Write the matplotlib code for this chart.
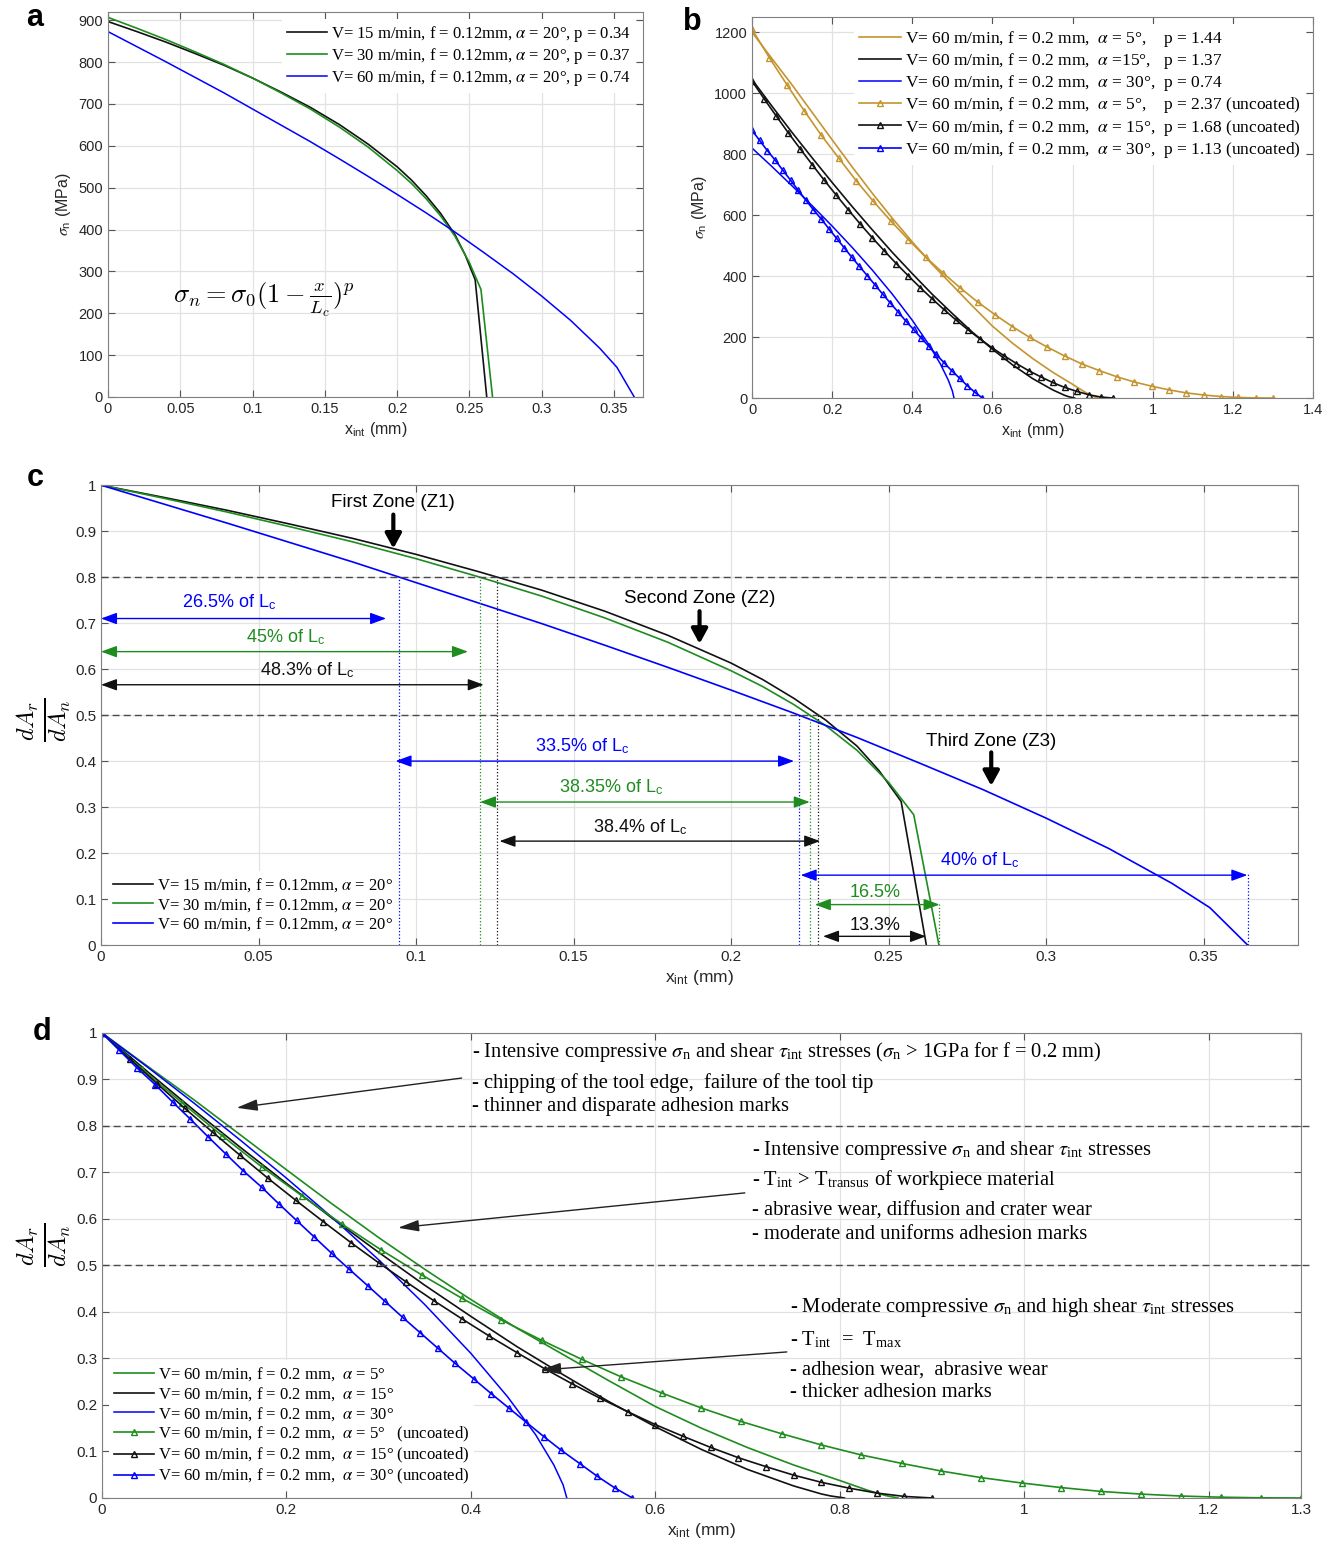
import matplotlib
matplotlib.use('Agg')
import matplotlib.pyplot as plt
import numpy as np
from matplotlib.ticker import FuncFormatter

plt.rcParams['font.family'] = ['Liberation Sans', 'DejaVu Sans']
plt.rcParams['mathtext.fontset'] = 'stix'

SERIF = ['Liberation Serif', 'DejaVu Serif']
GOLD = '#C4952F'
GREEN = '#1E8C1E'
BLUE = '#0000FF'
BLACK = '#111111'

# ---- panel a: sigma_n along the contact, f = 0.12 mm
xa_v15 = [0, 0.02, 0.04, 0.06, 0.08, 0.10, 0.12, 0.14, 0.16, 0.18, 0.20, 0.21, 0.22, 0.23, 0.24, 0.247, 0.254, 0.262]
sa_v15 = [897, 873, 848, 821, 793, 762, 728, 692, 651, 604, 550, 518, 481, 439, 388, 340, 280, 0]
xa_v30 = [0, 0.02, 0.04, 0.06, 0.08, 0.10, 0.12, 0.14, 0.16, 0.18, 0.20, 0.21, 0.22, 0.23, 0.24, 0.25, 0.258, 0.266]
sa_v30 = [907, 881, 854, 825, 795, 762, 726, 688, 645, 597, 541, 510, 474, 433, 384, 321, 257, 0]
xa_v60 = [0, 0.02, 0.04, 0.06, 0.08, 0.10, 0.12, 0.14, 0.16, 0.18, 0.20, 0.22, 0.24, 0.26, 0.28, 0.30, 0.32, 0.34, 0.352, 0.364]
sa_v60 = [873, 837, 801, 764, 727, 688, 649, 610, 569, 527, 484, 440, 394, 345, 295, 241, 183, 117, 71, 0]
labels_a = ['V= 15 m/min, f = 0.12mm, $\\alpha$ = 20°, p = 0.34',
            'V= 30 m/min, f = 0.12mm, $\\alpha$ = 20°, p = 0.37',
            'V= 60 m/min, f = 0.12mm, $\\alpha$ = 20°, p = 0.74']

# ---- panel b: f = 0.2 mm, coated (lines) and uncoated (markers)
xb_c5 = [0, 0.05, 0.1, 0.15, 0.2, 0.25, 0.3, 0.35, 0.4, 0.45, 0.5, 0.55, 0.6, 0.65, 0.7, 0.75, 0.8, 0.83, 0.85, 0.863]
sb_c5 = [1200, 1113, 1027, 937, 847, 758, 672, 590, 512, 438, 370, 302, 236, 180, 130, 85, 45, 20, 6, 0]
xb_c15 = [0, 0.05, 0.1, 0.15, 0.2, 0.25, 0.3, 0.35, 0.4, 0.45, 0.5, 0.55, 0.6, 0.65, 0.7, 0.75, 0.78, 0.79, 0.805]
sb_c15 = [1045, 957, 871, 788, 707, 628, 552, 478, 408, 340, 277, 216, 160, 109, 64, 27, 9, 4.5, 0]
xb_c30 = [0, 0.05, 0.1, 0.15, 0.2, 0.25, 0.3, 0.35, 0.4, 0.44, 0.47, 0.49, 0.5, 0.504]
sb_c30 = [820, 759, 696, 631, 564, 494, 420, 341, 255, 178, 112, 58, 23, 0]
xb_u5 = [0, 0.043, 0.087, 0.13, 0.173, 0.217, 0.26, 0.303, 0.347, 0.39, 0.433, 0.477, 0.52, 0.563,
         0.607, 0.65, 0.693, 0.737, 0.78, 0.823, 0.867, 0.91, 0.953, 0.997, 1.04, 1.083, 1.127,
         1.17, 1.213, 1.257, 1.3]
sb_u5 = [1210, 1117, 1028, 943, 862, 786, 713, 645, 580, 520, 463, 410, 361, 315, 273, 234, 199,
         167, 138, 112, 90, 70, 53, 39, 27, 17, 10, 5, 2, 0.4, 0]
xb_u15 = [0, 0.03, 0.06, 0.09, 0.12, 0.15, 0.18, 0.21, 0.24, 0.27, 0.3, 0.33, 0.36, 0.39, 0.42,
          0.45, 0.48, 0.51, 0.54, 0.57, 0.6, 0.63, 0.66, 0.69, 0.72, 0.75, 0.78, 0.81, 0.84, 0.87, 0.9]
sb_u15 = [1040, 982, 926, 871, 818, 766, 715, 666, 618, 571, 526, 483, 441, 401, 362, 325, 289,
          255, 223, 193, 164, 138, 113, 90, 70, 51, 35, 22, 11, 3.4, 0]
xb_u30 = [0, 0.019, 0.038, 0.058, 0.077, 0.096, 0.115, 0.134, 0.153, 0.173, 0.192, 0.211, 0.23,
          0.249, 0.268, 0.288, 0.307, 0.326, 0.345, 0.364, 0.383, 0.403, 0.422, 0.441, 0.46,
          0.479, 0.498, 0.518, 0.537, 0.556, 0.575]
sb_u30 = [878, 845, 812, 780, 747, 715, 682, 650, 618, 587, 555, 524, 493, 462, 432, 401, 371,
          341, 312, 283, 254, 225, 197, 170, 143, 116, 90, 65, 41, 19, 0]
labels_b = ['V= 60 m/min, f = 0.2 mm,  $\\alpha$ = 5°,    p = 1.44',
            'V= 60 m/min, f = 0.2 mm,  $\\alpha$ =15°,   p = 1.37',
            'V= 60 m/min, f = 0.2 mm,  $\\alpha$ = 30°,  p = 0.74',
            'V= 60 m/min, f = 0.2 mm,  $\\alpha$ = 5°,    p = 2.37 (uncoated)',
            'V= 60 m/min, f = 0.2 mm,  $\\alpha$ = 15°,  p = 1.68 (uncoated)',
            'V= 60 m/min, f = 0.2 mm,  $\\alpha$ = 30°,  p = 1.13 (uncoated)']
labels_c = ['V= 15 m/min, f = 0.12mm, $\\alpha$ = 20°',
            'V= 30 m/min, f = 0.12mm, $\\alpha$ = 20°',
            'V= 60 m/min, f = 0.12mm, $\\alpha$ = 20°']
labels_d = ['V= 60 m/min, f = 0.2 mm,  $\\alpha$ = 5°',
            'V= 60 m/min, f = 0.2 mm,  $\\alpha$ = 15°',
            'V= 60 m/min, f = 0.2 mm,  $\\alpha$ = 30°',
            'V= 60 m/min, f = 0.2 mm,  $\\alpha$ = 5°   (uncoated)',
            'V= 60 m/min, f = 0.2 mm,  $\\alpha$ = 15° (uncoated)',
            'V= 60 m/min, f = 0.2 mm,  $\\alpha$ = 30° (uncoated)']

# panel c annotation spans: x start, x end, y, colour, text, text x, text y
LC = 'L$_\\mathregular{c}$'
c_spans = [(0.0, 0.0905, 0.710, BLUE, '26.5% of ' + LC, 0.0408, 0.745),
           (0.0, 0.1165, 0.638, GREEN, '45% of ' + LC, 0.0585, 0.669),
           (0.0, 0.1215, 0.566, BLACK, '48.3% of ' + LC, 0.0655, 0.597),
           (0.0935, 0.2200, 0.400, BLUE, '33.5% of ' + LC, 0.1527, 0.433),
           (0.1203, 0.2250, 0.311, GREEN, '38.35% of ' + LC, 0.162, 0.343),
           (0.1265, 0.2283, 0.226, BLACK, '38.4% of ' + LC, 0.171, 0.257),
           (0.2221, 0.3639, 0.152, BLUE, '40% of ' + LC, 0.2788, 0.184),
           (0.2266, 0.2662, 0.088, GREEN, '16.5%', 0.2456, 0.114),
           (0.2292, 0.2619, 0.019, BLACK, '13.3%', 0.2456, 0.042)]
zones = [('First Zone (Z1)', 0.0928, 0.962, 0.936, 0.862),
         ('Second Zone (Z2)', 0.190, 0.753, 0.726, 0.655),
         ('Third Zone (Z3)', 0.2826, 0.443, 0.419, 0.346)]

SN = '$\\sigma_\\mathregular{n}$'
TI = '$\\tau_\\mathregular{int}$'
d_notes = [(0.401, [0.959, 0.892, 0.841],
            ['- Intensive compressive ' + SN + ' and shear ' + TI + ' stresses (' + SN + ' > 1GPa for f = 0.2 mm)',
             '- chipping of the tool edge,  failure of the tool tip',
             '- thinner and disparate adhesion marks'],
            (0.390, 0.903), (0.146, 0.839)),
           (0.7046, [0.748, 0.684, 0.617, 0.566],
            ['- Intensive compressive ' + SN + ' and shear ' + TI + ' stresses',
             '- T$_\\mathregular{int}$ > T$_\\mathregular{transus}$ of workpiece material',
             '- abrasive wear, diffusion and crater wear',
             '- moderate and uniforms adhesion marks'],
            (0.697, 0.656), (0.321, 0.581)),
           (0.7458, [0.409, 0.340, 0.275, 0.226],
            ['- Moderate compressive ' + SN + ' and high shear ' + TI + ' stresses',
             '- T$_\\mathregular{int}$  =  T$_\\mathregular{max}$',
             '- adhesion wear,  abrasive wear',
             '- thicker adhesion marks'],
            (0.7425, 0.314), (0.475, 0.275))]

fmt = FuncFormatter(lambda v, p: '%g' % round(v, 6))


def style(ax, size=11):
    ax.grid(True, color='#e2e2e2', lw=0.9)
    ax.set_axisbelow(True)
    ax.tick_params(direction='in', top=True, right=True, length=5, color='#555555',
                   labelsize=size, labelcolor='#262626')
    for s in ax.spines.values():
        s.set_color('#808080')
    ax.xaxis.set_major_formatter(fmt)
    ax.yaxis.set_major_formatter(fmt)


def cross(x, y, level):
    return np.interp(level, np.asarray(y)[::-1], np.asarray(x)[::-1])


def leg(ax, loc, size=12):
    lg = ax.legend(loc=loc, prop={'family': SERIF, 'size': size}, frameon=True,
                   fancybox=False, edgecolor='none', framealpha=1, borderaxespad=0.4,
                   handlelength=2.4, labelspacing=0.12, handletextpad=0.25, borderpad=0.3)
    # keep the curves and dotted guides on top of the legend box
    lg.set_zorder(1.5)
    return lg


fig = plt.figure(figsize=(13.36, 15.47), dpi=100)

# ---------------- a
ax = fig.add_axes([0.0808, 0.7434, 0.4004, 0.2489])
style(ax, 10.5)
ax.plot(xa_v15, sa_v15, color=BLACK, lw=1.2, label=labels_a[0])
ax.plot(xa_v30, sa_v30, color=GREEN, lw=1.2, label=labels_a[1])
ax.plot(xa_v60, sa_v60, color=BLUE, lw=1.1, label=labels_a[2])
ax.set_xlim(0, 0.37)
ax.set_ylim(0, 920)
ax.set_xticks(np.arange(0, 0.36, 0.05))
ax.set_yticks(np.arange(0, 901, 100))
ax.set_xlabel('x$_\\mathregular{int}$ (mm)', fontsize=11.5, color='#262626', labelpad=3)
ax.set_ylabel('$\\sigma_\\mathregular{n}$ (MPa)', fontsize=11.5, color='#262626', labelpad=4)
ax.text(0.045, 231, r'$\sigma_n = \sigma_0(1-\frac{x}{L_c})^p$', fontsize=19,
        math_fontfamily='cm', va='center')
leg(ax, 'upper right')

# ---------------- b
ax = fig.add_axes([0.5629, 0.7427, 0.4199, 0.2463])
style(ax, 10.5)
ax.plot(xb_c5, sb_c5, color=GOLD, lw=1.2, label=labels_b[0])
ax.plot(xb_c15, sb_c15, color=BLACK, lw=1.2, label=labels_b[1])
ax.plot(xb_c30, sb_c30, color=BLUE, lw=1.1, label=labels_b[2])
mk = dict(marker='^', ms=4.5, mfc='none', mew=1.0, lw=1.2)
ax.plot(xb_u5, sb_u5, color=GOLD, label=labels_b[3], **mk)
ax.plot(xb_u15, sb_u15, color=BLACK, label=labels_b[4], **mk)
ax.plot(xb_u30, sb_u30, color=BLUE, label=labels_b[5], **mk)
ax.set_xlim(0, 1.4)
ax.set_ylim(0, 1250)
ax.set_xticks(np.arange(0, 1.41, 0.2))
ax.set_yticks(np.arange(0, 1201, 200))
ax.set_xlabel('x$_\\mathregular{int}$ (mm)', fontsize=11.5, color='#262626', labelpad=3)
ax.set_ylabel('$\\sigma_\\mathregular{n}$ (MPa)', fontsize=11.5, color='#262626', labelpad=4)
leg(ax, 'upper right', 12.5)

# ---------------- c
ax = fig.add_axes([0.0756, 0.3891, 0.8960, 0.2973])
style(ax, 11)
cdata = [(xa_v15, np.array(sa_v15) / sa_v15[0], BLACK),
         (xa_v30, np.array(sa_v30) / sa_v30[0], GREEN),
         (xa_v60, np.array(sa_v60) / sa_v60[0], BLUE)]
for (x, y, c), lab in zip(cdata, labels_c):
    ax.plot(x, y, color=c, lw=1.2, label=lab)
for lvl in (0.8, 0.5):
    ax.axhline(lvl, color='#4a4a4a', lw=1.0, ls=(0, (5, 3)), zorder=3)
    for x, y, c in cdata:
        xc = cross(x, y, lvl)
        ax.plot([xc, xc], [0, lvl], ls=':', color=c, lw=0.9, zorder=6)
for x, y, c in cdata[1:]:
    top = 0.09 if c == GREEN else 0.155
    ax.plot([x[-1], x[-1]], [0, top], ls=':', color=c, lw=0.9, zorder=6)
for x0, x1, yy, c, t, tx, ty in c_spans:
    ax.annotate('', xy=(x1, yy), xytext=(x0, yy),
                arrowprops=dict(arrowstyle='<|-|>,head_length=0.6,head_width=0.22', color=c,
                                lw=1.0, shrinkA=0, shrinkB=0, mutation_scale=16), zorder=7)
    ax.text(tx, ty, t, color=c, fontsize=13, ha='center', va='center', zorder=7)
for t, xz, ty, y0, y1 in zones:
    ax.text(xz, ty, t, fontsize=13.5, ha='center', va='center')
    ax.annotate('', xy=(xz, y1), xytext=(xz, y0),
                arrowprops=dict(arrowstyle='-|>,head_length=0.55,head_width=0.3', color='k',
                                lw=3, shrinkA=0, shrinkB=0, mutation_scale=16))
ax.set_xlim(0, 0.38)
ax.set_ylim(0, 1)
ax.set_xticks(np.arange(0, 0.36, 0.05))
ax.set_yticks(np.arange(0, 1.01, 0.1))
ax.set_xlabel('x$_\\mathregular{int}$ (mm)', fontsize=12.5, color='#262626', labelpad=3)
ax.text(-0.047, 0.489, r'$\frac{dA_r}{dA_n}$', transform=ax.transAxes, rotation=90,
        fontsize=25, math_fontfamily='cm', ha='center', va='center')
leg(ax, 'lower left')

# ---------------- d
ax = fig.add_axes([0.0763, 0.0317, 0.8975, 0.3006])
style(ax, 11)
ax.plot(xb_c5, np.array(sb_c5) / sb_c5[0], color=GREEN, lw=1.2, label=labels_d[0])
ax.plot(xb_c15, np.array(sb_c15) / sb_c15[0], color=BLACK, lw=1.2, label=labels_d[1])
ax.plot(xb_c30, np.array(sb_c30) / sb_c30[0], color=BLUE, lw=1.1, label=labels_d[2])
ax.plot(xb_u5, np.array(sb_u5) / sb_u5[0], color=GREEN, label=labels_d[3], **mk)
ax.plot(xb_u15, np.array(sb_u15) / sb_u15[0], color=BLACK, label=labels_d[4], **mk)
ax.plot(xb_u30, np.array(sb_u30) / sb_u30[0], color=BLUE, label=labels_d[5], **mk)
for lvl in (0.8, 0.5):
    ax.axhline(lvl, xmax=1.008, color='#4a4a4a', lw=1.0, ls=(0, (5, 3)), clip_on=False)
for x0, ys, lines, tail, head in d_notes:
    for yy, s in zip(ys, lines):
        ax.text(x0, yy, s, fontsize=14.8, family=SERIF, va='center', ha='left')
    ax.annotate('', xy=head, xytext=tail,
                arrowprops=dict(arrowstyle='-|>,head_length=0.8,head_width=0.22', color='#222222',
                                lw=1.0, shrinkA=0, shrinkB=0, mutation_scale=16))
ax.set_xlim(0, 1.3)
ax.set_ylim(0, 1)
ax.set_xticks([0, 0.2, 0.4, 0.6, 0.8, 1.0, 1.2, 1.3])
ax.set_yticks(np.arange(0, 1.01, 0.1))
ax.set_xlabel('x$_\\mathregular{int}$ (mm)', fontsize=12.5, color='#262626', labelpad=3)
ax.text(-0.0475, 0.544, r'$\frac{dA_r}{dA_n}$', transform=ax.transAxes, rotation=90,
        fontsize=25, math_fontfamily='cm', ha='center', va='center')
leg(ax, 'lower left')

for t, px, py in [('a', 35, 18), ('b', 692, 22), ('c', 35, 478), ('d', 42, 1032)]:
    fig.text(px / 1336, 1 - py / 1547, t, fontsize=22, fontweight='bold', ha='center', va='center')

fig.savefig('out.png', dpi=100)
